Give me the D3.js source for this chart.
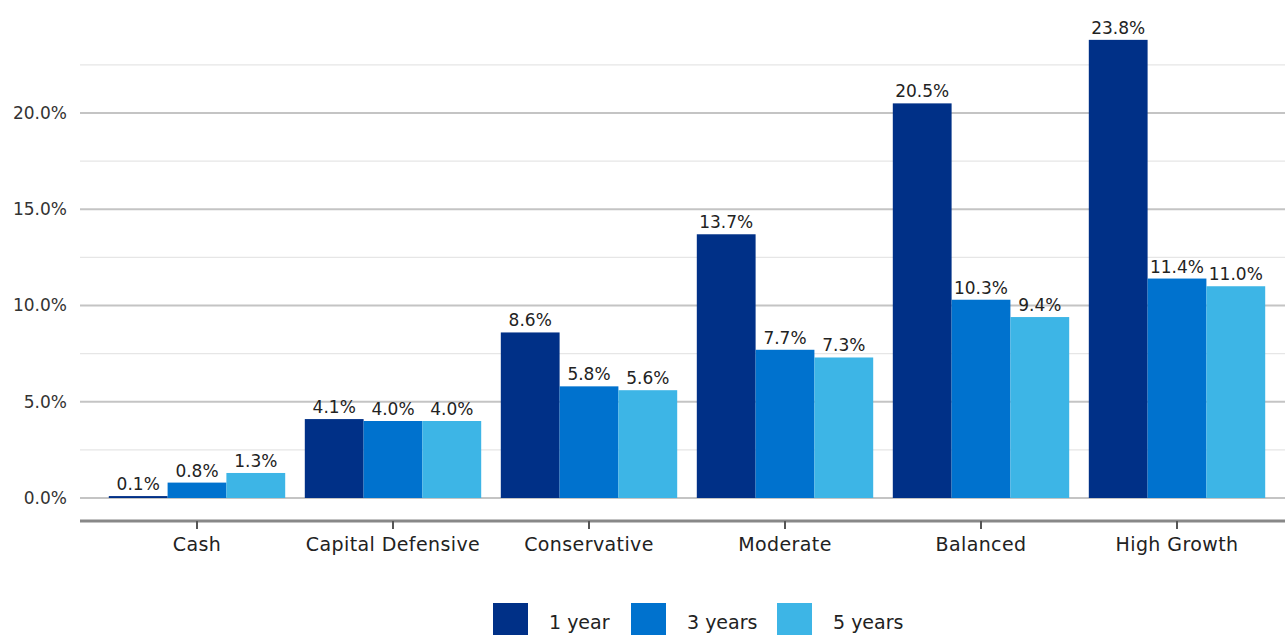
<!DOCTYPE html>
<html>
<head>
<meta charset="utf-8">
<script src="https://cdn.jsdelivr.net/npm/d3@7.9.0/dist/d3.min.js"></script>
<style>
  body { margin: 0; background: #fff; }
  svg { display: block; font-family: "DejaVu Sans", "Liberation Sans", sans-serif; }
</style>
</head>
<body>
<svg width="1285" height="635"></svg>
<script>
// chart data
const categories = ['Cash', 'Capital Defensive', 'Conservative', 'Moderate', 'Balanced', 'High Growth'];
const seriesNames = ['1 year', '3 years', '5 years'];
const oneYear = [0.1, 4.1, 8.6, 13.7, 20.5, 23.8];
const threeYears = [0.8, 4.0, 5.8, 7.7, 10.3, 11.4];
const fiveYears = [1.3, 4.0, 5.6, 7.3, 9.4, 11.0];
const yTicks = [0, 5, 10, 15, 20];
const gridLines = [0, 2.5, 5, 7.5, 10, 12.5, 15, 17.5, 20, 22.5];

const series = [oneYear, threeYears, fiveYears];
const colors = ['#003087', '#0072CE', '#3DB5E6'];

const svg = d3.select('svg');

let x = d3.scaleBand().domain(categories).range([99, 1275]).paddingInner(0.1).paddingOuter(0.05);
let xSub = d3.scaleBand().domain(seriesNames).range([0, x.bandwidth()]);
let y = d3.scaleLinear().domain([0, 20]).range([498, 113]);

// gridlines
svg.append('g')
  .selectAll('line')
  .data(gridLines)
  .join('line')
  .attr('x1', 80).attr('x2', 1285)
  .attr('y1', d => y(d)).attr('y2', d => y(d))
  .attr('stroke', d => d % 5 === 0 ? '#c4c4c4' : '#e6e6e6')
  .attr('stroke-width', d => d % 5 === 0 ? 2 : 1.2);

// y labels
svg.append('g')
  .selectAll('text')
  .data(yTicks)
  .join('text')
  .attr('x', 67)
  .attr('y', d => y(d))
  .attr('dy', '0.35em')
  .attr('text-anchor', 'end')
  .attr('font-size', 17)
  .attr('fill', '#333')
  .text(d => d.toFixed(1) + '%');

// bars + value labels
series.forEach((vals, s) => {
  let g = svg.append('g');
  g.selectAll('rect')
    .data(vals)
    .join('rect')
    .attr('x', (d, i) => x(categories[i]) + xSub(seriesNames[s]))
    .attr('y', d => y(d))
    .attr('width', xSub.bandwidth())
    .attr('height', d => y(0) - y(d))
    .attr('fill', colors[s]);
  g.selectAll('text')
    .data(vals)
    .join('text')
    .attr('x', (d, i) => x(categories[i]) + xSub(seriesNames[s]) + xSub.bandwidth() / 2)
    .attr('y', d => y(d) - 6)
    .attr('text-anchor', 'middle')
    .attr('font-size', 17)
    .attr('fill', '#222')
    .text(d => d.toFixed(1) + '%');
});

// x axis
const axisY = 521;
svg.append('line')
  .attr('x1', 80).attr('x2', 1285)
  .attr('y1', axisY).attr('y2', axisY)
  .attr('stroke', '#888').attr('stroke-width', 3);

let xg = svg.append('g');
xg.selectAll('line')
  .data(categories)
  .join('line')
  .attr('x1', d => x(d) + x.bandwidth() / 2)
  .attr('x2', d => x(d) + x.bandwidth() / 2)
  .attr('y1', axisY).attr('y2', axisY + 8)
  .attr('stroke', '#555').attr('stroke-width', 2);
xg.selectAll('text')
  .data(categories)
  .join('text')
  .attr('x', d => x(d) + x.bandwidth() / 2)
  .attr('y', 551)
  .attr('text-anchor', 'middle')
  .attr('font-size', 19)
  .attr('letter-spacing', 0.4)
  .attr('fill', '#222')
  .text(d => d);

// legend
const legendX = [493, 631, 777];
let lg = svg.append('g');
seriesNames.forEach((name, i) => {
  lg.append('rect')
    .attr('x', legendX[i]).attr('y', 603)
    .attr('width', 35).attr('height', 35)
    .attr('fill', colors[i]);
  lg.append('text')
    .attr('x', legendX[i] + 56).attr('y', 629)
    .attr('font-size', 19)
    .attr('fill', '#222')
    .text(name);
});
</script>
</body>
</html>
